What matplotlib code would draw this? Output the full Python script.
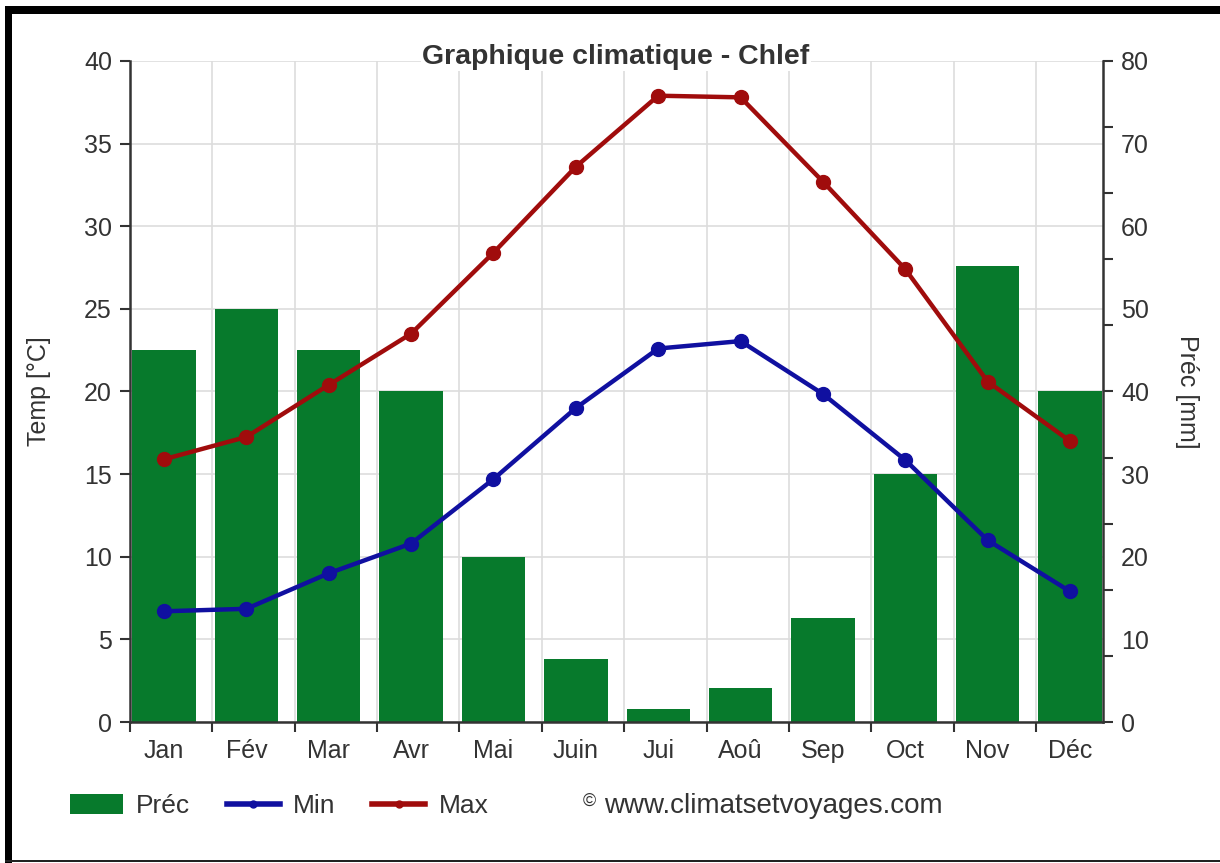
import numpy as np
import matplotlib
matplotlib.use("Agg")
import matplotlib.pyplot as plt
from matplotlib.lines import Line2D
from matplotlib.patches import Patch, Rectangle

months = ["Jan", "Fév", "Mar", "Avr", "Mai", "Juin", "Jui", "Aoû", "Sep", "Oct", "Nov", "Déc"]
prec = [45, 50, 45, 40, 20, 7.6, 1.6, 4.1, 12.6, 30, 55.2, 40]
tmin = [6.7, 6.85, 9.0, 10.8, 14.7, 19.0, 22.6, 23.05, 19.85, 15.85, 11.0, 7.9]
tmax = [15.9, 17.25, 20.4, 23.5, 28.4, 33.6, 37.9, 37.8, 32.7, 27.4, 20.6, 17.0]
temp_ticks = list(range(0, 41, 5))
prec_label_ticks = list(range(0, 81, 10))
prec_mark_ticks = list(range(0, 81, 8))

plt.rcParams['font.family'] = ['Liberation Sans', 'DejaVu Sans']
TXT = '#333333'
GREEN = '#077a2c'
BLUE = '#1010a0'
RED = '#a00c0c'
W, H = 1220, 863

fig = plt.figure(figsize=(W / 100, H / 100), dpi=100)
fig.patch.set_facecolor('white')

L, R, T, B = 130, 1103, 61, 722
ax = fig.add_axes([L / W, (H - B) / H, (R - L) / W, (B - T) / H])
ax2 = ax.twinx()
x = np.arange(len(months))
off = 0.413

# precipitation bars on primary (right side)
ax.bar(x, prec, width=0.77, color=GREEN, zorder=2)
ax.set_xlim(-off, len(months) - 1 + 0.40)
ax.set_ylim(0, 80)
ax.set_axisbelow(True)
ax.yaxis.tick_right()
ax.yaxis.set_label_position('right')
ax.yaxis.remove_overlapping_locs = False
ax.set_yticks(prec_mark_ticks)
ax.set_yticklabels([])
ax.set_yticks(prec_label_ticks, minor=True)
ax.set_yticklabels([str(v) for v in prec_label_ticks], minor=True)
ax.tick_params(axis='y', which='major', length=7, width=1.5, color=TXT, direction='out',
               left=False, labelleft=False, right=True)
ax.tick_params(axis='y', which='minor', length=0, pad=13, labelsize=18, labelcolor=TXT,
               right=True, labelright=True, left=False, labelleft=False)
ax.xaxis.remove_overlapping_locs = False
ax.set_xticks(x - off)
ax.set_xticklabels([])
ax.set_xticks(x, minor=True)
ax.set_xticklabels(months, minor=True)
ax.tick_params(axis='x', which='major', length=7, width=1.5, color=TXT, direction='out')
ax.tick_params(axis='x', which='minor', length=0, pad=12, labelsize=18, labelcolor=TXT)
ax.grid(which='major', axis='x', color='#dddddd', linewidth=1.2)
ax.grid(which='minor', axis='y', color='#dddddd', linewidth=1.2)
ax.set_ylabel('Préc [mm]', rotation=270, fontsize=18, color=TXT, labelpad=36)
for s in ['top', 'left']:
    ax.spines[s].set_visible(False)
for s in ['right', 'bottom']:
    ax.spines[s].set_color(TXT)
    ax.spines[s].set_linewidth(1.8)

# temperature lines on twin (left side)
ax2.yaxis.tick_left()
ax2.yaxis.set_label_position('left')
ax2.set_ylim(0, 40)
ax2.set_yticks(temp_ticks)
ax2.set_yticklabels([str(v) for v in temp_ticks])
ax2.tick_params(axis='y', length=7, width=1.5, color=TXT, labelsize=18, labelcolor=TXT, pad=6,
                right=False, labelright=False)
ax2.plot(x, tmin, color=BLUE, lw=3.2, marker='o', ms=10, zorder=3)
ax2.plot(x, tmax, color=RED, lw=3.2, marker='o', ms=10, zorder=3)
ax2.set_ylabel('Temp [°C]', fontsize=18, color=TXT, labelpad=24)
for s in ['top', 'right', 'bottom']:
    ax2.spines[s].set_visible(False)
ax2.spines['left'].set_color(TXT)
ax2.spines['left'].set_linewidth(1.8)

fig.text(616 / W, 1 - 57 / H, 'Graphique climatique - Chlef', ha='center', va='center',
         fontsize=20.5, fontweight='bold', color=TXT,
         bbox=dict(facecolor='white', edgecolor='none', pad=1))

handles = [Patch(facecolor=GREEN, edgecolor='none'),
           Line2D([], [], color=BLUE, lw=4, marker='o', ms=5),
           Line2D([], [], color=RED, lw=4, marker='o', ms=5)]
fig.legend(handles, ['Préc', 'Min', 'Max'], loc='center left', ncol=3,
           bbox_to_anchor=(70 / W, 1 - 806 / H), frameon=False, fontsize=19,
           labelcolor=TXT, handlelength=2.0, handleheight=0.8, handletextpad=0.5,
           columnspacing=1.4, borderaxespad=0, borderpad=0)
fig.text(583 / W, 1 - 801 / H, '©', fontsize=13, color=TXT, ha='left', va='center')
fig.text(604 / W, 1 - 806 / H, 'www.climatsetvoyages.com', fontsize=20, color=TXT,
         ha='left', va='center')

# outer frame
fig.patches.append(Rectangle((5 / W, 1 - 14 / H), 1 - 5 / W, 8 / H, transform=fig.transFigure,
                             facecolor='black', edgecolor='none'))
fig.patches.append(Rectangle((5 / W, 0), 7 / W, 1 - 6 / H, transform=fig.transFigure,
                             facecolor='black', edgecolor='none'))
fig.patches.append(Rectangle((5 / W, 1 / H), 1 - 5 / W, 2 / H, transform=fig.transFigure,
                             facecolor='#222222', edgecolor='none'))

fig.savefig('out.png', dpi=100)
